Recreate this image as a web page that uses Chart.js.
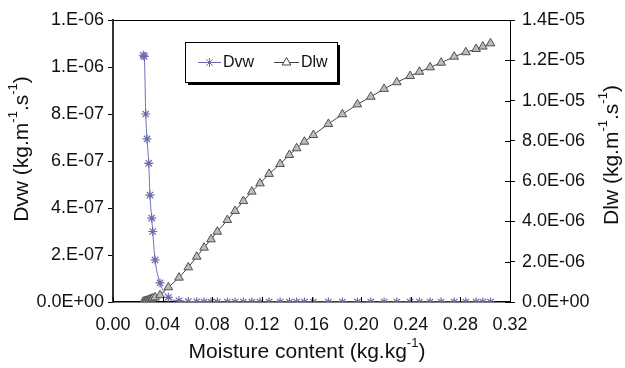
<!DOCTYPE html>
<html>
<head>
<meta charset="utf-8">
<script src="https://cdn.jsdelivr.net/npm/chart.js@4.4.1/dist/chart.umd.min.js"></script>
<style>
  body { margin: 0; background: #fff; }
</style>
</head>
<body>
<canvas id="chart" width="625" height="368"></canvas>
<script>
// moisture content (kg/kg), shared by both series
const moisture = [0.0244, 0.0252, 0.0264, 0.0274, 0.0288, 0.0298, 0.0312, 0.0320, 0.0339, 0.0379,
  0.0446, 0.0532, 0.0607, 0.0675, 0.0734, 0.0790, 0.0841, 0.0922, 0.0984, 0.1051,
  0.1119, 0.1185, 0.1258, 0.1347, 0.1422, 0.1480, 0.1543, 0.1615, 0.1736, 0.1849,
  0.1970, 0.2078, 0.2185, 0.2288, 0.2395, 0.2470, 0.2556, 0.2645, 0.2750, 0.2844,
  0.2927, 0.2981, 0.3043];

const dvw = [1.05e-6, 1.045e-6, 8.0e-7, 6.94e-7, 5.9e-7, 4.55e-7, 3.57e-7, 3.0e-7, 1.79e-7, 8.1e-8,
  2.0e-8, 5e-9, 2e-9, 1e-9, 0, 0, 0, 0, 0, 0,
  0, 0, 0, 0, 0, 0, 0, 0, 0, 0,
  0, 0, 0, 0, 0, 0, 0, 0, 0, 0,
  0, 0, 0];

const dlw = [1e-8, 3e-8, 5e-8, 7e-8, 1.0e-7, 1.3e-7, 1.6e-7, 1.8e-7, 2.3e-7, 3.4e-7,
  7.3e-7, 1.21e-6, 1.72e-6, 2.25e-6, 2.70e-6, 3.11e-6, 3.49e-6, 4.07e-6, 4.52e-6, 5.01e-6,
  5.48e-6, 5.89e-6, 6.36e-6, 6.85e-6, 7.30e-6, 7.63e-6, 7.96e-6, 8.29e-6, 8.84e-6, 9.32e-6,
  9.81e-6, 10.19e-6, 10.58e-6, 10.91e-6, 11.22e-6, 11.43e-6, 11.65e-6, 11.88e-6, 12.18e-6, 12.40e-6,
  12.56e-6, 12.68e-6, 12.84e-6];

const xTickLabels = ["0.00", "0.04", "0.08", "0.12", "0.16", "0.20", "0.24", "0.28", "0.32"];
const leftTickLabels = ["0.0E+00", "2.E-07", "4.E-07", "6.E-07", "8.E-07", "1.E-06", "1.E-06"];
const rightTickLabels = ["0.0E+00", "2.0E-06", "4.0E-06", "6.0E-06", "8.0E-06", "1.0E-05", "1.2E-05", "1.4E-05"];

const FONT = "'Liberation Sans', Arial, sans-serif";

const dvwStyle = { pointStyle: "star", radius: 4.5, borderColor: "#6a6aae", backgroundColor: "#6a6aae", borderWidth: 1.2 };
const dlwStyle = { pointStyle: "triangle", radius: 5, borderColor: "#505050", backgroundColor: "#bcbcbc", borderWidth: 1 };

// text with superscripts, centred on (x, y), optionally rotated
function richText(ctx, parts, x, y, size, rotate) {
  ctx.save();
  ctx.translate(x, y);
  if (rotate) ctx.rotate(-Math.PI / 2);
  ctx.fillStyle = "#111";
  ctx.textBaseline = "middle";
  ctx.textAlign = "left";
  let total = 0;
  parts.forEach((p) => {
    ctx.font = (p.sup ? Math.round(size * 0.6) : size) + "px " + FONT;
    p.w = ctx.measureText(p.t).width;
    total += p.w;
  });
  let cx = -total / 2;
  parts.forEach((p) => {
    ctx.font = (p.sup ? Math.round(size * 0.6) : size) + "px " + FONT;
    ctx.fillText(p.t, cx, p.sup ? -size * 0.42 : 0);
    cx += p.w;
  });
  ctx.restore();
}

const decorations = {
  id: "decorations",
  afterDraw(chart) {
    const ctx = chart.ctx;
    const a = chart.chartArea;
    const xs = chart.scales.x;
    const y2 = chart.scales.y2;
    ctx.save();
    ctx.strokeStyle = "#000";
    ctx.lineWidth = 1;
    // top frame line
    ctx.beginPath();
    ctx.moveTo(a.left, a.top + 0.5);
    ctx.lineTo(a.right, a.top + 0.5);
    ctx.stroke();
    // inner x ticks
    xs.ticks.forEach((t) => {
      const px = Math.round(xs.getPixelForValue(t.value)) + 0.5;
      ctx.beginPath();
      ctx.moveTo(px, a.bottom);
      ctx.lineTo(px, a.bottom - 5);
      ctx.stroke();
    });
    // right axis ticks crossing inward
    y2.ticks.forEach((t) => {
      const py = Math.round(y2.getPixelForValue(t.value)) + 0.5;
      ctx.beginPath();
      ctx.moveTo(a.right - 5, py);
      ctx.lineTo(a.right, py);
      ctx.stroke();
    });
    ctx.restore();

    // axis titles
    richText(ctx, [{ t: "Dvw (kg.m" }, { t: "-1", sup: true }, { t: ".s" }, { t: "-1", sup: true }, { t: ")" }], 22, 149, 21, true);
    richText(ctx, [{ t: "Dlw (kg.m" }, { t: "-1", sup: true }, { t: ".s" }, { t: "-1", sup: true }, { t: ")" }], 612, 155, 21, true);
    richText(ctx, [{ t: "Moisture content (kg.kg" }, { t: "-1", sup: true }, { t: ")" }], 307, 352, 21, false);

    // legend box
    ctx.save();
    const bx = 185, by = 42, bw = 152, bh = 40;
    ctx.fillStyle = "#000";
    ctx.fillRect(bx + 3, by + 3, bw, bh);
    ctx.fillStyle = "#fff";
    ctx.fillRect(bx, by, bw, bh);
    ctx.strokeStyle = "#000";
    ctx.lineWidth = 1;
    ctx.strokeRect(bx + 0.5, by + 0.5, bw, bh);
    const ly = by + bh / 2 + 0.5;
    ctx.lineWidth = 1;
    ctx.strokeStyle = dvwStyle.borderColor;
    ctx.beginPath(); ctx.moveTo(198, ly); ctx.lineTo(221, ly); ctx.stroke();
    Chart.helpers.drawPoint(ctx, dvwStyle, 209.5, ly);
    ctx.strokeStyle = "#444";
    ctx.beginPath(); ctx.moveTo(274, ly); ctx.lineTo(299, ly); ctx.stroke();
    Chart.helpers.drawPoint(ctx, dlwStyle, 286.5, ly);
    ctx.fillStyle = "#111";
    ctx.font = "16px " + FONT;
    ctx.textBaseline = "middle";
    ctx.fillText("Dvw", 223, ly);
    ctx.fillText("Dlw", 301, ly);
    ctx.restore();
  }
};

const tickFont = { family: FONT, size: 18 };

new Chart(document.getElementById("chart").getContext("2d"), {
  type: "scatter",
  data: {
    datasets: [
      {
        label: "Dvw",
        data: moisture.map((m, i) => ({ x: m, y: dvw[i] })),
        yAxisID: "y",
        showLine: true,
        borderColor: "#7070b4",
        borderWidth: 1,
        cubicInterpolationMode: "monotone",
        pointStyle: dvwStyle.pointStyle,
        pointRadius: dvwStyle.radius,
        pointBorderColor: dvwStyle.borderColor,
        pointBackgroundColor: dvwStyle.backgroundColor,
        pointBorderWidth: dvwStyle.borderWidth,
        order: 1
      },
      {
        label: "Dlw",
        data: moisture.map((m, i) => ({ x: m, y: dlw[i] })),
        yAxisID: "y2",
        showLine: true,
        borderColor: "#444",
        borderWidth: 1,
        pointStyle: dlwStyle.pointStyle,
        pointRadius: dlwStyle.radius,
        pointBorderColor: dlwStyle.borderColor,
        pointBackgroundColor: dlwStyle.backgroundColor,
        pointBorderWidth: dlwStyle.borderWidth,
        order: 2
      }
    ]
  },
  options: {
    responsive: false,
    animation: false,
    layout: { padding: { top: 20, left: 0, right: 0, bottom: 0 } },
    plugins: { legend: { display: false }, tooltip: { enabled: false } },
    scales: {
      x: {
        type: "linear",
        min: 0,
        max: 0.32,
        afterFit: (s) => { s.height = 66; },
        afterBuildTicks: (s) => { s.ticks = xTickLabels.map((l, i) => ({ value: i * 0.04 })); },
        grid: { display: true, drawOnChartArea: false, drawTicks: false },
        border: { color: "#000", width: 1.5 },
        ticks: { font: tickFont, color: "#111", padding: 12, maxRotation: 0, callback: (v, i) => xTickLabels[i] }
      },
      y: {
        position: "left",
        min: 0,
        max: 1.2e-6,
        afterFit: (s) => { s.width = 113; },
        afterBuildTicks: (s) => { s.ticks = leftTickLabels.map((l, i) => ({ value: i * 2e-7 })); },
        grid: { drawOnChartArea: false, drawTicks: true, tickLength: 5, color: "#000" },
        border: { color: "#333", width: 2 },
        ticks: { font: tickFont, color: "#111", padding: 4, callback: (v, i) => leftTickLabels[i] }
      },
      y2: {
        position: "right",
        min: 0,
        max: 1.4e-5,
        afterFit: (s) => { s.width = 115; },
        afterBuildTicks: (s) => { s.ticks = rightTickLabels.map((l, i) => ({ value: i * 2e-6 })); },
        grid: { drawOnChartArea: false, drawTicks: true, tickLength: 5, color: "#000" },
        border: { color: "#000", width: 1 },
        ticks: { font: tickFont, color: "#111", padding: 7, callback: (v, i) => rightTickLabels[i] }
      }
    }
  },
  plugins: [decorations]
});
</script>
</body>
</html>
